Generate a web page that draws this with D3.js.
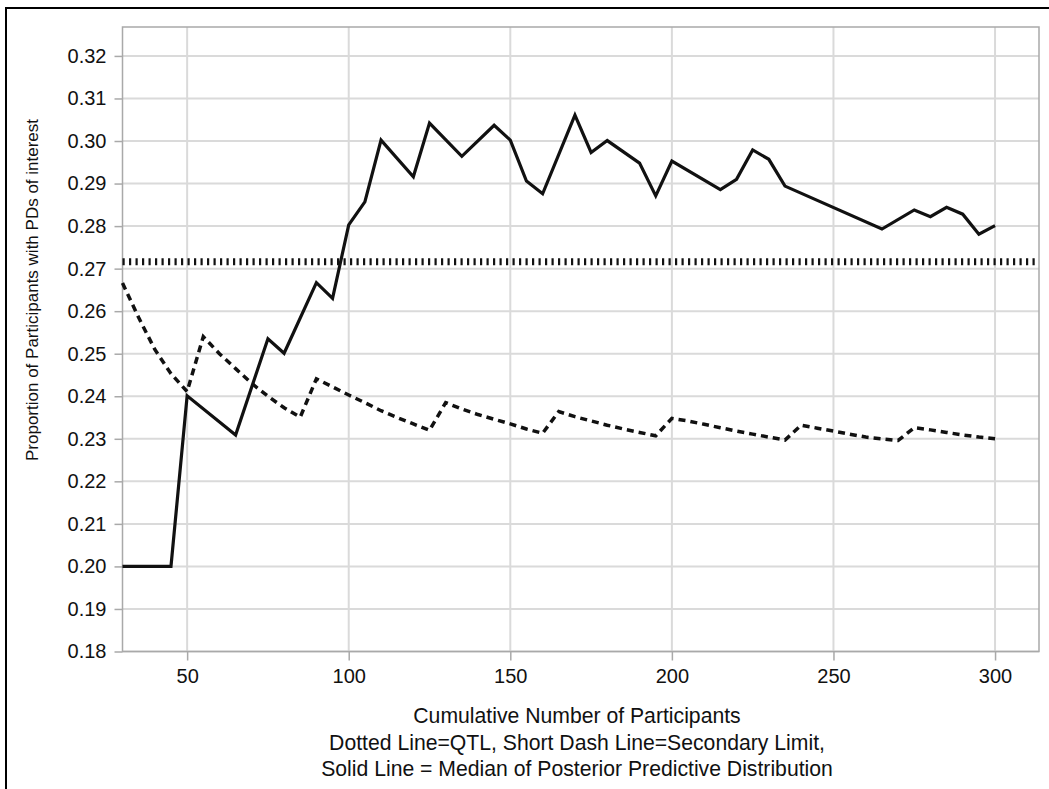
<!DOCTYPE html>
<html>
<head>
<meta charset="utf-8">
<script src="https://cdn.jsdelivr.net/npm/d3@7"></script>
<style>
  body { margin: 0; background: #fff; }
  svg { font-family: "Liberation Sans", Arial, sans-serif; }
  .grid line { stroke: #dadada; stroke-width: 2; }
  .axis path, .axis line { stroke: #a9a9a9; stroke-width: 1.5; }
  .axis text { fill: #111; font-size: 20px; }
  .caption { fill: #111; }
</style>
</head>
<body>
<svg id="chart" width="1049" height="789"></svg>
<script>
// median of posterior predictive distribution (solid)
var medianN = [30, 45, 50, 65, 75, 80, 90, 95, 100, 105, 110, 120, 125, 135, 145, 150, 155, 160,
               170, 175, 180, 190, 195, 200, 215, 220, 225, 230, 235, 265, 275, 280, 285, 290, 295, 300];
var median = [0.2000, 0.2000, 0.2401, 0.2309, 0.2535, 0.2501, 0.2667, 0.2630, 0.2803, 0.2857, 0.3002,
              0.2916, 0.3042, 0.2964, 0.3037, 0.3002, 0.2906, 0.2876, 0.3061, 0.2973, 0.3001, 0.2948,
              0.2871, 0.2953, 0.2886, 0.2910, 0.2979, 0.2957, 0.2894, 0.2793, 0.2838, 0.2822, 0.2844,
              0.2828, 0.2781, 0.2801];

// secondary limit (short dash)
var limitN = [30, 35, 40, 45, 50, 55, 60, 65, 70, 75, 80, 85, 90, 95, 100, 105, 110, 115, 120, 125,
              130, 135, 140, 145, 150, 155, 160, 165, 170, 175, 180, 185, 190, 195, 200, 205, 210,
              215, 220, 225, 230, 235, 240, 245, 250, 255, 260, 265, 270, 275, 280, 285, 290, 295, 300];
var limit = [0.2666, 0.2585, 0.2510, 0.2453, 0.2411, 0.2540, 0.2500, 0.2465, 0.2430, 0.2400, 0.2373,
             0.2351, 0.2441, 0.2422, 0.2403, 0.2385, 0.2366, 0.2350, 0.2335, 0.2320, 0.2385, 0.2370,
             0.2357, 0.2346, 0.2335, 0.2323, 0.2313, 0.2364, 0.2352, 0.2342, 0.2332, 0.2323, 0.2315,
             0.2307, 0.2348, 0.2342, 0.2334, 0.2326, 0.2318, 0.2311, 0.2304, 0.2297, 0.2332, 0.2325,
             0.2318, 0.2311, 0.2304, 0.2300, 0.2296, 0.2326, 0.2321, 0.2315, 0.2309, 0.2304, 0.2300];

// quality tolerance limit (dotted)
var qtl = 0.2716;

var xTicks = [50, 100, 150, 200, 250, 300];
var yTicks = [0.18, 0.19, 0.20, 0.21, 0.22, 0.23, 0.24, 0.25, 0.26, 0.27, 0.28, 0.29, 0.30, 0.31, 0.32];

var svg = d3.select("#chart");

var x = d3.scaleLinear()
    .domain([30, 313.6])
    .range([122.5, 1039]);

var y = d3.scaleLinear()
    .domain([0.18, 0.3268])
    .range([651.5, 27]);

// outer frame
svg.append("rect")
    .attr("x", 6).attr("y", 8)
    .attr("width", 1200).attr("height", 1000)
    .attr("fill", "none")
    .attr("stroke", "#000")
    .attr("stroke-width", 2);

// grid
var grid = svg.append("g").attr("class", "grid");
grid.selectAll(".gx")
  .data(xTicks)
  .enter().append("line")
    .attr("x1", function(d) { return x(d); })
    .attr("x2", function(d) { return x(d); })
    .attr("y1", y.range()[0])
    .attr("y2", y.range()[1]);
grid.selectAll(".gy")
  .data(yTicks)
  .enter().append("line")
    .attr("x1", x.range()[0])
    .attr("x2", x.range()[1])
    .attr("y1", function(d) { return y(d); })
    .attr("y2", function(d) { return y(d); });

// plot frame
svg.append("rect")
    .attr("x", x.range()[0])
    .attr("y", y.range()[1])
    .attr("width", x.range()[1] - x.range()[0])
    .attr("height", y.range()[0] - y.range()[1])
    .attr("fill", "none")
    .attr("stroke", "#a9a9a9")
    .attr("stroke-width", 1.5);

svg.append("g")
    .attr("class", "axis")
    .attr("transform", "translate(0," + y.range()[0] + ")")
    .call(d3.axisBottom(x)
      .tickValues(xTicks)
      .tickSize(9)
      .tickPadding(8)
      .tickFormat(d3.format("d")))
  .select(".domain").remove();

svg.append("g")
    .attr("class", "axis")
    .attr("transform", "translate(" + x.range()[0] + ",0)")
    .call(d3.axisLeft(y)
      .tickValues(yTicks)
      .tickSize(8)
      .tickPadding(8)
      .tickFormat(d3.format(".2f")))
  .select(".domain").remove();

var line = d3.line()
    .x(function(d) { return x(d[0]); })
    .y(function(d) { return y(d[1]); });

// QTL
svg.append("path")
    .datum(x.domain().map(function(d) { return [d, qtl]; }))
    .attr("fill", "none")
    .attr("stroke", "#111")
    .attr("stroke-width", 7)
    .attr("stroke-dasharray", "2.2,4.3")
    .attr("d", line);

// secondary limit
svg.append("path")
    .datum(d3.zip(limitN, limit))
    .attr("fill", "none")
    .attr("stroke", "#111")
    .attr("stroke-width", 3.5)
    .attr("stroke-dasharray", "7,5")
    .attr("d", line);

// median
svg.append("path")
    .datum(d3.zip(medianN, median))
    .attr("fill", "none")
    .attr("stroke", "#111")
    .attr("stroke-width", 3.2)
    .attr("stroke-linejoin", "miter")
    .attr("d", line);

// captions
svg.append("text")
    .attr("class", "caption")
    .attr("transform", "translate(32,290) rotate(-90)")
    .attr("text-anchor", "middle")
    .attr("dy", "0.35em")
    .attr("font-size", 17)
    .text("Proportion of Participants with PDs of interest");

var xCaption = ["Cumulative Number of Participants",
                "Dotted Line=QTL, Short Dash Line=Secondary Limit,",
                "Solid Line = Median of Posterior Predictive Distribution"];

svg.selectAll(".xcap")
  .data(xCaption)
  .enter().append("text")
    .attr("class", "caption")
    .attr("x", 577)
    .attr("y", function(d, i) { return 723 + i * 26.7; })
    .attr("text-anchor", "middle")
    .attr("font-size", 21.2)
    .text(function(d) { return d; });
</script>
</body>
</html>
